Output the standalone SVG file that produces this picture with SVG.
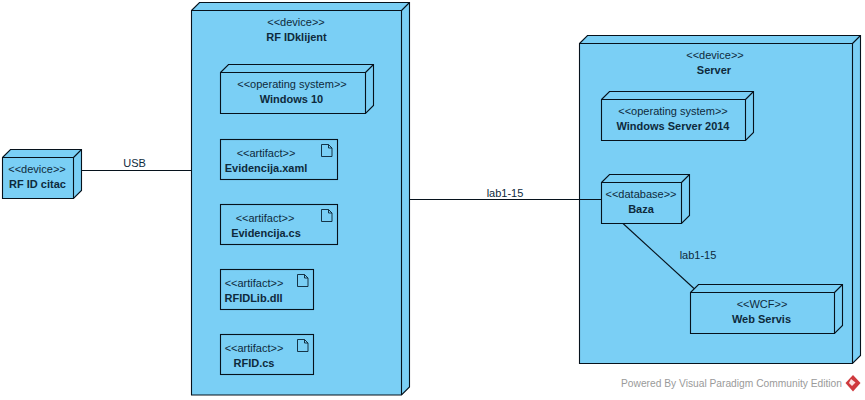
<svg xmlns="http://www.w3.org/2000/svg" width="865" height="400" viewBox="0 0 865 400">
<style>
.b{fill:#7acff5;stroke:#06121c;stroke-width:1.1;stroke-linejoin:miter}
.l{fill:none;stroke:#06121c;stroke-width:1.1}
.i{fill:none;stroke:#0a2233;stroke-width:.9}
text{font-family:"Liberation Sans",Arial,sans-serif;font-size:11px;fill:#0e2a3c}
.n{font-weight:bold}
.m{text-anchor:middle}
.w{fill:#9a9a9a;font-size:11px}
</style>
<defs>
<path id="doc" class="i" d="M0 0H7L10.500 3.500V12H0ZM7 0V3.500H10.500"/>
</defs>
<rect width="865" height="400" fill="#fff"/>
<g id="RF-ID-citac">
<path class="b" d="M2.500 157.500L10.500 149.500H81.500V190.500L73.500 198.500H2.500Z"/>
<path class="l" d="M2.500 157.500H73.500V198.500M73.500 157.500L81.500 149.500"/>
<text class="m" x="37" y="173">&lt;&lt;device&gt;&gt;</text>
<text class="m n" x="37.500" y="188">RF ID citac</text>
</g>
<g id="RF-IDklijent">
<path class="b" d="M191.500 10.500L199.500 2.500H409.500V387L401.500 395H191.500Z"/>
<path class="l" d="M191.500 10.500H401.500V395M401.500 10.500L409.500 2.500"/>
<text class="m" x="296" y="26">&lt;&lt;device&gt;&gt;</text>
<text class="m n" x="296.500" y="41">RF IDklijent</text>
</g>
<g id="Windows-10">
<path class="b" d="M220.500 72.500L228.500 64.500H373.500V105.500L365.500 113.500H220.500Z"/>
<path class="l" d="M220.500 72.500H365.500V113.500M365.500 72.500L373.500 64.500"/>
<text class="m" x="292" y="88">&lt;&lt;operating system&gt;&gt;</text>
<text class="m n" x="291.500" y="103">Windows 10</text>
</g>
<g id="Evidencija-xaml">
<rect class="b" x="220.500" y="139.500" width="117" height="40"/>
<use href="#doc" x="321.500" y="144.500"/>
<text class="m" x="266" y="157">&lt;&lt;artifact&gt;&gt;</text>
<text class="m n" x="266" y="172">Evidencija.xaml</text>
</g>
<g id="Evidencija-cs">
<rect class="b" x="220.500" y="204.500" width="117" height="40"/>
<use href="#doc" x="321.500" y="209.500"/>
<text class="m" x="265" y="222">&lt;&lt;artifact&gt;&gt;</text>
<text class="m n" x="266" y="237">Evidencija.cs</text>
</g>
<g id="RFIDLib-dll">
<rect class="b" x="220.500" y="269.500" width="93" height="40"/>
<use href="#doc" x="297.500" y="274.500"/>
<text class="m" x="254" y="287">&lt;&lt;artifact&gt;&gt;</text>
<text class="m n" x="253.500" y="302">RFIDLib.dll</text>
</g>
<g id="RFID-cs">
<rect class="b" x="220.500" y="334.500" width="93" height="40"/>
<use href="#doc" x="297.500" y="339.500"/>
<text class="m" x="254" y="352">&lt;&lt;artifact&gt;&gt;</text>
<text class="m n" x="254" y="367">RFID.cs</text>
</g>
<g id="Server">
<path class="b" d="M579.500 43.500L587.500 35.500H860.500V355.500L852.500 363.500H579.500Z"/>
<path class="l" d="M579.500 43.500H852.500V363.500M852.500 43.500L860.500 35.500"/>
<text class="m" x="715" y="59">&lt;&lt;device&gt;&gt;</text>
<text class="m n" x="714" y="74">Server</text>
</g>
<g id="Windows-Server-2014">
<path class="b" d="M601.500 99.500L609.500 91.500H753.500V132.500L745.500 140.500H601.500Z"/>
<path class="l" d="M601.500 99.500H745.500V140.500M745.500 99.500L753.500 91.500"/>
<text class="m" x="673" y="115">&lt;&lt;operating system&gt;&gt;</text>
<text class="m n" x="673" y="130">Windows Server 2014</text>
</g>
<g id="Baza">
<path class="b" d="M601.500 182.500L609.500 174.500H689.500V215.500L681.500 223.500H601.500Z"/>
<path class="l" d="M601.500 182.500H681.500V223.500M681.500 182.500L689.500 174.500"/>
<text class="m" x="641" y="198">&lt;&lt;database&gt;&gt;</text>
<text class="m n" x="641" y="213">Baza</text>
</g>
<g id="Web-Servis">
<path class="b" d="M690.500 292.500L698.500 284.500H842.500V325.500L834.500 333.500H690.500Z"/>
<path class="l" d="M690.500 292.500H834.500V333.500M834.500 292.500L842.500 284.500"/>
<text class="m" x="762" y="308">&lt;&lt;WCF&gt;&gt;</text>
<text class="m n" x="761.500" y="323">Web Servis</text>
</g>
<g id="connectors">
<path class="l" d="M81.500 170.500H191.500"/>
<path class="l" d="M409.500 199.500H601.500"/>
<path class="l" d="M623 223.500L694 288.500"/>
<text class="m" x="134.500" y="167">USB</text>
<text class="m" x="505" y="197">lab1-15</text>
<text class="m" x="698" y="259">lab1-15</text>
</g>
<g id="watermark">
<text class="w" x="621" y="387" textLength="221" lengthAdjust="spacingAndGlyphs">Powered By Visual Paradigm Community Edition</text>
<path d="M853 375L860.500 383L853 391.500L845.500 383Z" fill="#cf3a3e"/>
<path d="M851 379L855.500 382.500L852 386L849 383Z" fill="#fbe4e4"/>
</g>
</svg>
